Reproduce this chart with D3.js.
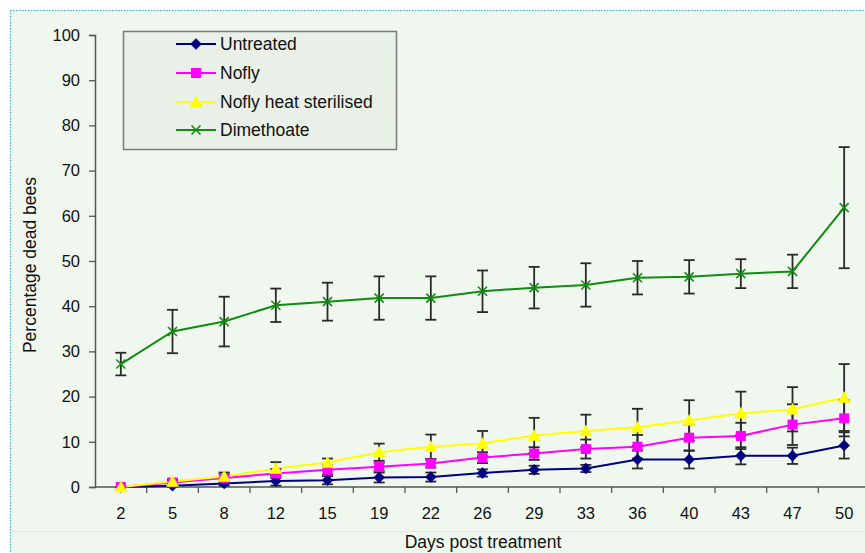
<!DOCTYPE html>
<html>
<head>
<meta charset="utf-8">
<script src="https://cdn.jsdelivr.net/npm/d3@7"></script>
<style>
  html, body { margin: 0; padding: 0; background: #ffffff; }
  svg { display: block; font-family: Arial, "Liberation Sans", sans-serif; }
</style>
</head>
<body>
<svg id="chart" width="865" height="553"></svg>
<script>
// ---- data ----
const days = ["2","5","8","12","15","19","22","26","29","33","36","40","43","47","50"];
const yTicks = [0,10,20,30,40,50,60,70,80,90,100];
const seriesNames = ["Untreated","Nofly","Nofly heat sterilised","Dimethoate"];

const untreated    = [0, 0.3, 0.8, 1.3, 1.5, 2.1, 2.2, 3.1, 3.8, 4.1, 6.1, 6.1, 6.9, 6.9, 9.2];
const untreatedErr = [0, 0.3, 0.5, 1.0, 0.9, 1.1, 1.0, 0.8, 0.9, 0.8, 2.0, 2.0, 1.9, 1.8, 2.9];
const nofly        = [0, 1.0, 2.0, 3.0, 3.8, 4.5, 5.2, 6.5, 7.4, 8.4, 8.9, 10.9, 11.3, 13.8, 15.2];
const noflyErr     = [0, 0.5, 0.9, 1.0, 1.0, 0.9, 0.9, 1.2, 1.4, 2.1, 2.6, 2.9, 2.9, 4.5, 4.0];
const noflyHeat    = [0, 1.2, 2.3, 4.1, 5.4, 7.7, 8.9, 9.6, 11.4, 12.4, 13.2, 14.7, 16.3, 17.2, 19.8];
const noflyHeatErr = [0, 0.5, 0.9, 1.4, 0.9, 1.9, 2.7, 2.8, 3.9, 3.6, 4.1, 4.5, 4.8, 4.9, 7.4];
const dimethoate   = [27.2, 34.4, 36.6, 40.2, 41.0, 41.8, 41.8, 43.3, 44.1, 44.7, 46.3, 46.5, 47.2, 47.7, 61.8];
const dimethoateErr= [2.5, 4.8, 5.5, 3.7, 4.2, 4.8, 4.8, 4.6, 4.6, 4.8, 3.7, 3.7, 3.2, 3.7, 13.4];

const colors = ["#000080", "#ff00ff", "#ffff00", "#108c10"];
const markers = ["diamond", "square", "triangle", "cross"];

const series = [
  { name: seriesNames[0], values: untreated,  err: untreatedErr,  color: colors[0], marker: markers[0] },
  { name: seriesNames[1], values: nofly,      err: noflyErr,      color: colors[1], marker: markers[1] },
  { name: seriesNames[2], values: noflyHeat,  err: noflyHeatErr,  color: colors[2], marker: markers[2] },
  { name: seriesNames[3], values: dimethoate, err: dimethoateErr, color: colors[3], marker: markers[3] }
];

// ---- layout ----
const svg = d3.select("#chart");
const W = 865, H = 553;
const plot = { left: 95, right: 870, top: 35, bottom: 487 };

// background & border
svg.append("rect").attr("x", 10).attr("y", 10).attr("width", W).attr("height", H)
  .attr("fill", "#eff7ef");
svg.append("line").attr("x1", 10).attr("x2", W).attr("y1", 10.5).attr("y2", 10.5)
  .attr("stroke", "#2ab4c8").attr("stroke-width", 1).attr("stroke-dasharray", "1.5,1.5");
svg.append("line").attr("x1", 10.5).attr("x2", 10.5).attr("y1", 10).attr("y2", H)
  .attr("stroke", "#2ab4c8").attr("stroke-width", 1).attr("stroke-dasharray", "1.5,1.5");
svg.append("line").attr("x1", 11).attr("x2", W).attr("y1", 531.5).attr("y2", 531.5)
  .attr("stroke", "#dcebe2").attr("stroke-width", 1);

const x = d3.scaleBand().domain(days).range([plot.left, plot.right]);
const y = d3.scaleLinear().domain([0, 100]).range([plot.bottom, plot.top]);
const cx = d => x(d) + x.bandwidth() / 2;

// axes
const yAxis = d3.axisLeft(y).tickValues(yTicks).tickSize(6).tickPadding(9);
const gy = svg.append("g").attr("transform", `translate(${plot.left},0)`).call(yAxis);
gy.select(".domain").attr("stroke", "#555").attr("stroke-width", 1.5);
gy.selectAll(".tick line").attr("stroke", "#555").attr("stroke-width", 1.3);
gy.selectAll(".tick text").attr("font-size", 16.5).attr("fill", "#111")
  .attr("font-family", "Arial, 'Liberation Sans', sans-serif");

const gx = svg.append("g").attr("transform", `translate(0,${plot.bottom})`);
gx.append("line").attr("x1", plot.left).attr("x2", plot.right).attr("y1", 0).attr("y2", 0)
  .attr("stroke", "#555").attr("stroke-width", 1.5);
// tick marks between categories
gx.selectAll("line.tk").data(days.slice(1)).enter().append("line")
  .attr("class", "tk")
  .attr("x1", d => x(d)).attr("x2", d => x(d))
  .attr("y1", 0).attr("y2", 6)
  .attr("stroke", "#555").attr("stroke-width", 1.3);
gx.selectAll("text.lbl").data(days).enter().append("text")
  .attr("class", "lbl")
  .attr("x", d => cx(d)).attr("y", 32)
  .attr("text-anchor", "middle").attr("font-size", 16.5).attr("fill", "#111")
  .text(d => d);

// axis titles
svg.append("text").attr("x", 483).attr("y", 548).attr("text-anchor", "middle")
  .attr("font-size", 17.5).attr("fill", "#111").text("Days post treatment");
svg.append("text").attr("transform", "translate(36,265) rotate(-90)")
  .attr("text-anchor", "middle").attr("font-size", 17.5).attr("fill", "#111")
  .text("Percentage dead bees");

// marker drawing
function drawMarker(g, type, color, px, py, scale) {
  const s = scale || 1;
  if (type === "diamond") {
    const r = 5.5 * s;
    g.append("path").attr("d", `M${px},${py - r}L${px + r},${py}L${px},${py + r}L${px - r},${py}Z`)
      .attr("fill", color).attr("stroke", color).attr("stroke-width", 0.5);
  } else if (type === "square") {
    const r = 5 * s;
    g.append("rect").attr("x", px - r).attr("y", py - r).attr("width", 2 * r).attr("height", 2 * r)
      .attr("fill", color);
  } else if (type === "triangle") {
    const r = 6.5 * s;
    g.append("path").attr("d", `M${px},${py - r}L${px + r},${py + r * 0.8}L${px - r},${py + r * 0.8}Z`)
      .attr("fill", color);
  } else if (type === "cross") {
    const r = 4.5 * s;
    g.append("path").attr("d", `M${px - r},${py - r}L${px + r},${py + r}M${px - r},${py + r}L${px + r},${py - r}`)
      .attr("stroke", color).attr("stroke-width", 1.6).attr("fill", "none");
  }
}

const line = d3.line().x(d => cx(d.day)).y(d => y(d.v));

// lines
series.forEach(s => {
  const pts = days.map((d, i) => ({ day: d, v: s.values[i] }));
  svg.append("path").datum(pts).attr("d", line)
    .attr("fill", "none").attr("stroke", s.color).attr("stroke-width", 2);
});

// error bars
const eg = svg.append("g");
series.forEach(s => {
  days.forEach((d, i) => {
    const e = s.err[i];
    if (!e) return;
    const px = cx(d);
    const y1 = y(s.values[i] + e), y2 = y(Math.max(0, s.values[i] - e));
    eg.append("line").attr("x1", px).attr("x2", px).attr("y1", y1).attr("y2", y2)
      .attr("stroke", "#2a2a2a").attr("stroke-width", 1.8);
    [y1, y2].forEach(yy => {
      eg.append("line").attr("x1", px - 5.5).attr("x2", px + 5.5).attr("y1", yy).attr("y2", yy)
        .attr("stroke", "#2a2a2a").attr("stroke-width", 1.8);
    });
  });
});

// markers
const mg = svg.append("g");
series.forEach(s => {
  days.forEach((d, i) => drawMarker(mg, s.marker, s.color, cx(d), y(s.values[i])));
});

// legend
const lg = svg.append("g");
lg.append("rect").attr("x", 123.5).attr("y", 31.5).attr("width", 273).attr("height", 118)
  .attr("fill", "#e8f0e8").attr("stroke", "#7a7a7a").attr("stroke-width", 1.5);
const rowsY = [44, 73, 102, 130];
series.forEach((s, i) => {
  const ly = rowsY[i];
  lg.append("line").attr("x1", 176).attr("x2", 216).attr("y1", ly).attr("y2", ly)
    .attr("stroke", s.color).attr("stroke-width", 2);
  drawMarker(lg, s.marker, s.color, 196, ly);
  lg.append("text").attr("x", 220).attr("y", ly + 6).attr("font-size", 17.5).attr("fill", "#111")
    .text(s.name);
});
</script>
</body>
</html>
